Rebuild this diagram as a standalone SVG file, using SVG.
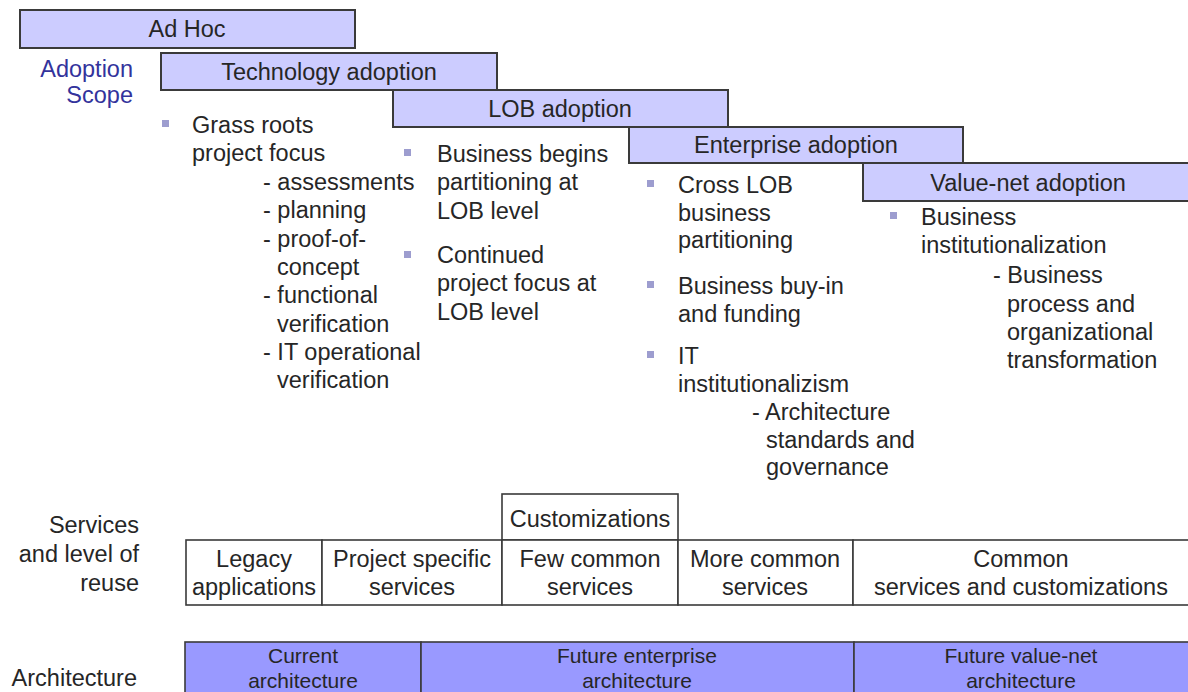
<svg xmlns="http://www.w3.org/2000/svg" width="1188" height="692" viewBox="0 0 1188 692">
<style>
text{font-family:"Liberation Sans",Arial,sans-serif;font-size:23.5px;fill:#262626}
.c{text-anchor:middle}
.r{text-anchor:end}
.blue{fill:#33339c}
.phase{fill:#ccccff;stroke:#3a3a3a;stroke-width:2}
.cell{fill:#ffffff;stroke:#3a3a3a;stroke-width:1.6}
.arch{fill:#9999ff;stroke:#3a3a3a;stroke-width:1.6}
.at{font-size:21px}
.b{fill:#9d9dcf}
</style>
<rect width="1188" height="692" fill="#ffffff"/>

<g id="label-adoption-scope">
<text class="r blue" x="133" y="77">Adoption</text>
<text class="r blue" x="133" y="103">Scope</text>
</g>

<g id="phase-adhoc">
<rect class="phase" x="20" y="10" width="335" height="38"/>
<text class="c" x="187" y="37">Ad Hoc</text>
</g>
<g id="phase-technology">
<rect class="phase" x="161" y="53" width="336" height="37"/>
<text class="c" x="329" y="80">Technology adoption</text>
</g>
<g id="phase-lob">
<rect class="phase" x="393" y="90" width="335" height="37"/>
<text class="c" x="560" y="117">LOB adoption</text>
</g>
<g id="phase-enterprise">
<rect class="phase" x="629" y="127" width="334" height="36"/>
<text class="c" x="796" y="153">Enterprise adoption</text>
</g>
<g id="phase-valuenet">
<rect class="phase" x="863" y="163" width="340" height="38"/>
<text class="c" x="1028" y="191">Value-net adoption</text>
</g>

<g id="list-technology">
<rect class="b" x="162" y="120" width="7" height="7"/>
<text x="192" y="133">Grass roots</text>
<text x="192" y="161">project focus</text>
<text x="263" y="190">- assessments</text>
<text x="263" y="218">- planning</text>
<text x="263" y="247">- proof-of-</text>
<text x="277" y="275">concept</text>
<text x="263" y="303">- functional</text>
<text x="277" y="332">verification</text>
<text x="263" y="360">- IT operational</text>
<text x="277" y="388">verification</text>
</g>

<g id="list-lob">
<rect class="b" x="404" y="149" width="7" height="7"/>
<text x="437" y="162">Business begins</text>
<text x="437" y="190">partitioning at</text>
<text x="437" y="219">LOB level</text>
<rect class="b" x="404" y="251" width="7" height="7"/>
<text x="437" y="263">Continued</text>
<text x="437" y="291">project focus at</text>
<text x="437" y="320">LOB level</text>
</g>

<g id="list-enterprise">
<rect class="b" x="647" y="180" width="7" height="7"/>
<text x="678" y="193">Cross LOB</text>
<text x="678" y="221">business</text>
<text x="678" y="248">partitioning</text>
<rect class="b" x="647" y="281" width="7" height="7"/>
<text x="678" y="294">Business buy-in</text>
<text x="678" y="322">and funding</text>
<rect class="b" x="647" y="351" width="7" height="7"/>
<text x="678" y="364">IT</text>
<text x="678" y="392">institutionalizism</text>
<text x="752" y="420">- Architecture</text>
<text x="766" y="448">standards and</text>
<text x="766" y="475">governance</text>
</g>

<g id="list-valuenet">
<rect class="b" x="890" y="212" width="7" height="7"/>
<text x="921" y="225">Business</text>
<text x="921" y="253">institutionalization</text>
<text x="993" y="283">- Business</text>
<text x="1007" y="312">process and</text>
<text x="1007" y="340">organizational</text>
<text x="1007" y="368">transformation</text>
</g>

<g id="label-services">
<text class="r" x="139" y="533">Services</text>
<text class="r" x="139" y="562">and level of</text>
<text class="r" x="139" y="591">reuse</text>
</g>

<g id="cell-customizations">
<rect class="cell" x="502" y="494" width="176" height="46"/>
<text class="c" x="590" y="527">Customizations</text>
</g>
<g id="cell-legacy">
<rect class="cell" x="186" y="540" width="136" height="65"/>
<text class="c" x="254" y="567">Legacy</text>
<text class="c" x="254" y="595">applications</text>
</g>
<g id="cell-project">
<rect class="cell" x="322" y="540" width="180" height="65"/>
<text class="c" x="412" y="567">Project specific</text>
<text class="c" x="412" y="595">services</text>
</g>
<g id="cell-few">
<rect class="cell" x="502" y="540" width="176" height="65"/>
<text class="c" x="590" y="567">Few common</text>
<text class="c" x="590" y="595">services</text>
</g>
<g id="cell-more">
<rect class="cell" x="678" y="540" width="175" height="65"/>
<text class="c" x="765" y="567">More common</text>
<text class="c" x="765" y="595">services</text>
</g>
<g id="cell-common">
<rect class="cell" x="853" y="540" width="345" height="65"/>
<text class="c" x="1021" y="567">Common</text>
<text class="c" x="1021" y="595">services and customizations</text>
</g>

<g id="label-architecture">
<text class="r" x="137" y="686">Architecture</text>
</g>
<g id="arch-current">
<rect class="arch" x="185" y="642" width="236" height="60"/>
<text class="c at" x="303" y="663">Current</text>
<text class="c at" x="303" y="688">architecture</text>
</g>
<g id="arch-enterprise">
<rect class="arch" x="421" y="642" width="433" height="60"/>
<text class="c at" x="637" y="663">Future enterprise</text>
<text class="c at" x="637" y="688">architecture</text>
</g>
<g id="arch-valuenet">
<rect class="arch" x="854" y="642" width="344" height="60"/>
<text class="c at" x="1021" y="663">Future value-net</text>
<text class="c at" x="1021" y="688">architecture</text>
</g>

<g id="connectors"></g>
</svg>
